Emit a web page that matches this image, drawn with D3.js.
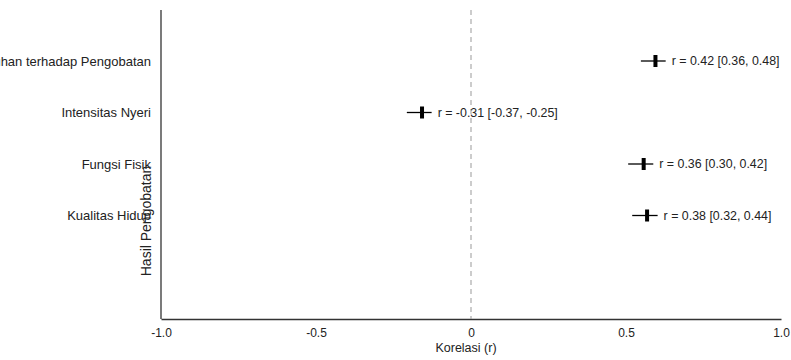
<!DOCTYPE html>
<html>
<head>
<meta charset="utf-8">
<script src="https://cdn.jsdelivr.net/npm/d3@7"></script>
<style>
  body { margin: 0; background: white; }
  text { font-family: "Liberation Sans", Arial, sans-serif; fill: #222; }
</style>
</head>
<body>
<div id="chart"></div>
<script>
// outcome names, top to bottom
var outcomes = ["Kepatuhan terhadap Pengobatan", "Intensitas Nyeri", "Fungsi Fisik", "Kualitas Hidup"];
// where the marks sit on the picture (in r units)
var plotPoint = [0.595, -0.158, 0.557, 0.568];
var plotLow   = [0.548, -0.207, 0.507, 0.520];
var plotHigh  = [0.628, -0.127, 0.588, 0.602];
// printed estimates
var rValue = ["0.42", "-0.31", "0.36", "0.38"];
var ciLow  = ["0.36", "-0.37", "0.30", "0.32"];
var ciHigh = ["0.48", "-0.25", "0.42", "0.44"];
var xTicks = [-1, -0.5, 0, 0.5, 1];
var xTickLabels = ["-1.0", "-0.5", "0", "0.5", "1.0"];

canWidth = 791;
canHeight = 360;
plotLeft = 161;
plotRight = 781;
plotTop = 10;
plotBottom = 319;

var rows = outcomes.map(function (d, i) {
    return {
        name: d,
        pt: plotPoint[i],
        lo: plotLow[i],
        hi: plotHigh[i],
        label: "r = " + rValue[i] + " [" + ciLow[i] + ", " + ciHigh[i] + "]"
    };
});

var svg = d3.select("#chart")
    .append("svg")
    .attr("width", canWidth)
    .attr("height", canHeight);

var x = d3.scaleLinear().domain([-1, 1]).range([plotLeft, plotRight]);
var y = d3.scalePoint().domain(outcomes).range([61, 215.5]);

// x axis, no tick marks
var xAxis = svg.append("g")
    .attr("transform", "translate(0," + plotBottom + ")")
    .call(d3.axisBottom(x)
        .tickValues(xTicks)
        .tickSize(0)
        .tickPadding(9)
        .tickFormat(function (d, i) { return xTickLabels[i]; }));
xAxis.select(".domain").attr("stroke", "#333").attr("stroke-width", 1.3);
xAxis.selectAll("text")
    .attr("font-size", 12)
    .attr("font-family", "Liberation Sans, Arial, sans-serif")
    .attr("fill", "#222");

// left axis line
svg.append("line")
    .attr("x1", plotLeft).attr("x2", plotLeft)
    .attr("y1", plotTop).attr("y2", plotBottom)
    .attr("stroke", "#333")
    .attr("stroke-width", 1.3);

// zero line
svg.append("line")
    .attr("x1", x(0)).attr("x2", x(0))
    .attr("y1", plotTop).attr("y2", plotBottom)
    .attr("stroke", "#999")
    .attr("stroke-width", 1)
    .attr("stroke-dasharray", "5,4");

// outcome names (the long one runs off the left edge, as in the original)
svg.selectAll(".cat")
    .data(rows)
    .enter()
    .append("text")
    .attr("class", "cat")
    .attr("x", plotLeft - 10)
    .attr("y", function (d) { return y(d.name); })
    .attr("dy", "0.35em")
    .attr("text-anchor", "end")
    .attr("font-size", 13)
    .text(function (d) { return d.name; });

var row = svg.selectAll(".row")
    .data(rows)
    .enter()
    .append("g")
    .attr("class", "row");

row.append("line")
    .attr("x1", function (d) { return x(d.lo); })
    .attr("x2", function (d) { return x(d.hi); })
    .attr("y1", function (d) { return y(d.name); })
    .attr("y2", function (d) { return y(d.name); })
    .attr("stroke", "black")
    .attr("stroke-width", 1.3);

row.append("rect")
    .attr("x", function (d) { return x(d.pt) - 2; })
    .attr("y", function (d) { return y(d.name) - 6; })
    .attr("width", 4)
    .attr("height", 12)
    .attr("fill", "black");

row.append("text")
    .attr("x", function (d) { return x(d.hi) + 6; })
    .attr("y", function (d) { return y(d.name); })
    .attr("dy", "0.35em")
    .attr("font-size", 12.4)
    .text(function (d) { return d.label; });

// axis titles
svg.append("text")
    .attr("x", x(0) - 5)
    .attr("y", 352)
    .attr("text-anchor", "middle")
    .attr("font-size", 12.5)
    .text("Korelasi (r)");

svg.append("text")
    .attr("transform", "translate(151,221) rotate(-90)")
    .attr("text-anchor", "middle")
    .attr("font-size", 14)
    .text("Hasil Pengobatan");
</script>
</body>
</html>
